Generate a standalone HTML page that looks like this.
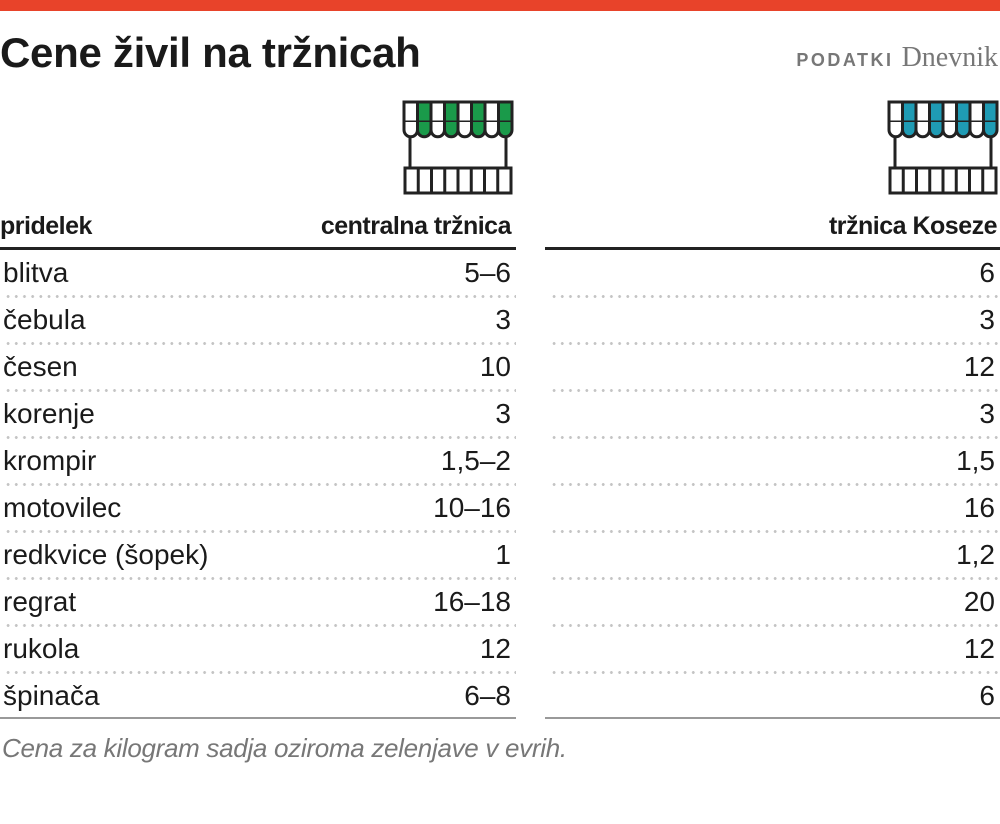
<!DOCTYPE html>
<html><head><meta charset="utf-8"><style>
body{margin:0;width:1000px;height:824px;background:#fff;position:relative;overflow:hidden;font-family:"Liberation Sans",sans-serif;color:#1a1a1a}
.bar{position:absolute;left:0;top:0;width:1000px;height:11px;background:#e8432a}
.t{position:absolute;left:0;top:29px;font:bold 42px "Liberation Sans",sans-serif;letter-spacing:-0.3px;color:#1a1a1a}
.src{position:absolute;right:2px;top:42px;color:#777;font-size:28px;font-family:"Liberation Serif",serif}
.src b{font:bold 18px "Liberation Sans",sans-serif;letter-spacing:2.5px;margin-right:8px}
.h{position:absolute;top:212px;font-weight:bold;font-size:25px;letter-spacing:-0.5px}
.ln{position:absolute;height:3px;background:#222}
.row{position:absolute;height:47px;font-size:28px;line-height:47px;width:1000px}
.lab{position:absolute;left:3px}
.v1{position:absolute;right:489px}
.v2{position:absolute;right:5px}
.dot{position:absolute;height:3px;background:radial-gradient(circle,#c4c4c4 1.3px,transparent 1.6px) 0 0/8.2px 3px repeat-x}
.foot{position:absolute;left:2px;top:733px;font-style:italic;font-size:26px;color:#777;letter-spacing:-0.3px}
svg{position:absolute}
</style></head><body>
<div class="bar"></div>
<div class="t">Cene živil na tržnicah</div>
<div class="src"><b>PODATKI</b>Dnevnik</div>

<svg style="left:402px;top:100px" width="112" height="96" viewBox="0 0 112 96">
<g stroke="#222" stroke-width="3" fill="#fff">
<rect x="2" y="2" width="108" height="20"/>
<g fill="#1a9a4a"><rect x="15.5" y="2" width="13.5" height="20"/><rect x="42.5" y="2" width="13.5" height="20"/><rect x="69.5" y="2" width="13.5" height="20"/><rect x="96.5" y="2" width="13.5" height="20"/></g>
<path d="M2 22 v8 a6.75 6.75 0 0 0 13.5 0 v-8" /><path d="M15.5 22 v8 a6.75 6.75 0 0 0 13.5 0 v-8" fill="#1a9a4a"/><path d="M29 22 v8 a6.75 6.75 0 0 0 13.5 0 v-8"/><path d="M42.5 22 v8 a6.75 6.75 0 0 0 13.5 0 v-8" fill="#1a9a4a"/><path d="M56 22 v8 a6.75 6.75 0 0 0 13.5 0 v-8"/><path d="M69.5 22 v8 a6.75 6.75 0 0 0 13.5 0 v-8" fill="#1a9a4a"/><path d="M83 22 v8 a6.75 6.75 0 0 0 13.5 0 v-8"/><path d="M96.5 22 v8 a6.75 6.75 0 0 0 13.5 0 v-8" fill="#1a9a4a"/>
<path d="M8 37 V68 M104 37 V68"/>
<rect x="3" y="68" width="106" height="25"/>
<path d="M16.25 68v25M29.5 68v25M42.75 68v25M56 68v25M69.25 68v25M82.5 68v25M95.75 68v25"/>
</g></svg>
<svg style="left:887px;top:100px" width="112" height="96" viewBox="0 0 112 96">
<g stroke="#222" stroke-width="3" fill="#fff">
<rect x="2" y="2" width="108" height="20"/>
<g fill="#1f9bb4"><rect x="15.5" y="2" width="13.5" height="20"/><rect x="42.5" y="2" width="13.5" height="20"/><rect x="69.5" y="2" width="13.5" height="20"/><rect x="96.5" y="2" width="13.5" height="20"/></g>
<path d="M2 22 v8 a6.75 6.75 0 0 0 13.5 0 v-8" /><path d="M15.5 22 v8 a6.75 6.75 0 0 0 13.5 0 v-8" fill="#1f9bb4"/><path d="M29 22 v8 a6.75 6.75 0 0 0 13.5 0 v-8"/><path d="M42.5 22 v8 a6.75 6.75 0 0 0 13.5 0 v-8" fill="#1f9bb4"/><path d="M56 22 v8 a6.75 6.75 0 0 0 13.5 0 v-8"/><path d="M69.5 22 v8 a6.75 6.75 0 0 0 13.5 0 v-8" fill="#1f9bb4"/><path d="M83 22 v8 a6.75 6.75 0 0 0 13.5 0 v-8"/><path d="M96.5 22 v8 a6.75 6.75 0 0 0 13.5 0 v-8" fill="#1f9bb4"/>
<path d="M8 37 V68 M104 37 V68"/>
<rect x="3" y="68" width="106" height="25"/>
<path d="M16.25 68v25M29.5 68v25M42.75 68v25M56 68v25M69.25 68v25M82.5 68v25M95.75 68v25"/>
</g></svg>

<div class="h" style="left:0">pridelek</div>
<div class="h" style="right:489px">centralna tržnica</div>
<div class="h" style="right:3px">tržnica Koseze</div>
<div class="ln" style="left:0;width:516px;top:247px"></div>
<div class="ln" style="left:545px;width:455px;top:247px"></div>

<div class="row" style="top:249px"><span class="lab">blitva</span><span class="v1">5–6</span><span class="v2">6</span></div>
<div class="row" style="top:296px"><span class="lab">čebula</span><span class="v1">3</span><span class="v2">3</span></div>
<div class="row" style="top:343px"><span class="lab">česen</span><span class="v1">10</span><span class="v2">12</span></div>
<div class="row" style="top:390px"><span class="lab">korenje</span><span class="v1">3</span><span class="v2">3</span></div>
<div class="row" style="top:437px"><span class="lab">krompir</span><span class="v1">1,5–2</span><span class="v2">1,5</span></div>
<div class="row" style="top:484px"><span class="lab">motovilec</span><span class="v1">10–16</span><span class="v2">16</span></div>
<div class="row" style="top:531px"><span class="lab">redkvice (šopek)</span><span class="v1">1</span><span class="v2">1,2</span></div>
<div class="row" style="top:578px"><span class="lab">regrat</span><span class="v1">16–18</span><span class="v2">20</span></div>
<div class="row" style="top:625px"><span class="lab">rukola</span><span class="v1">12</span><span class="v2">12</span></div>
<div class="row" style="top:672px"><span class="lab">špinača</span><span class="v1">6–8</span><span class="v2">6</span></div>

<div class="dot" style="left:4px;width:512px;top:295px"></div><div class="dot" style="left:550px;width:450px;top:295px"></div>
<div class="dot" style="left:4px;width:512px;top:342px"></div><div class="dot" style="left:550px;width:450px;top:342px"></div>
<div class="dot" style="left:4px;width:512px;top:389px"></div><div class="dot" style="left:550px;width:450px;top:389px"></div>
<div class="dot" style="left:4px;width:512px;top:436px"></div><div class="dot" style="left:550px;width:450px;top:436px"></div>
<div class="dot" style="left:4px;width:512px;top:483px"></div><div class="dot" style="left:550px;width:450px;top:483px"></div>
<div class="dot" style="left:4px;width:512px;top:530px"></div><div class="dot" style="left:550px;width:450px;top:530px"></div>
<div class="dot" style="left:4px;width:512px;top:577px"></div><div class="dot" style="left:550px;width:450px;top:577px"></div>
<div class="dot" style="left:4px;width:512px;top:624px"></div><div class="dot" style="left:550px;width:450px;top:624px"></div>
<div class="dot" style="left:4px;width:512px;top:671px"></div><div class="dot" style="left:550px;width:450px;top:671px"></div>
<div class="ln" style="left:0;width:516px;top:717px;height:2px;background:#999"></div>
<div class="ln" style="left:545px;width:455px;top:717px;height:2px;background:#999"></div>

<div class="foot">Cena za kilogram sadja oziroma zelenjave v evrih.</div>
</body></html>
